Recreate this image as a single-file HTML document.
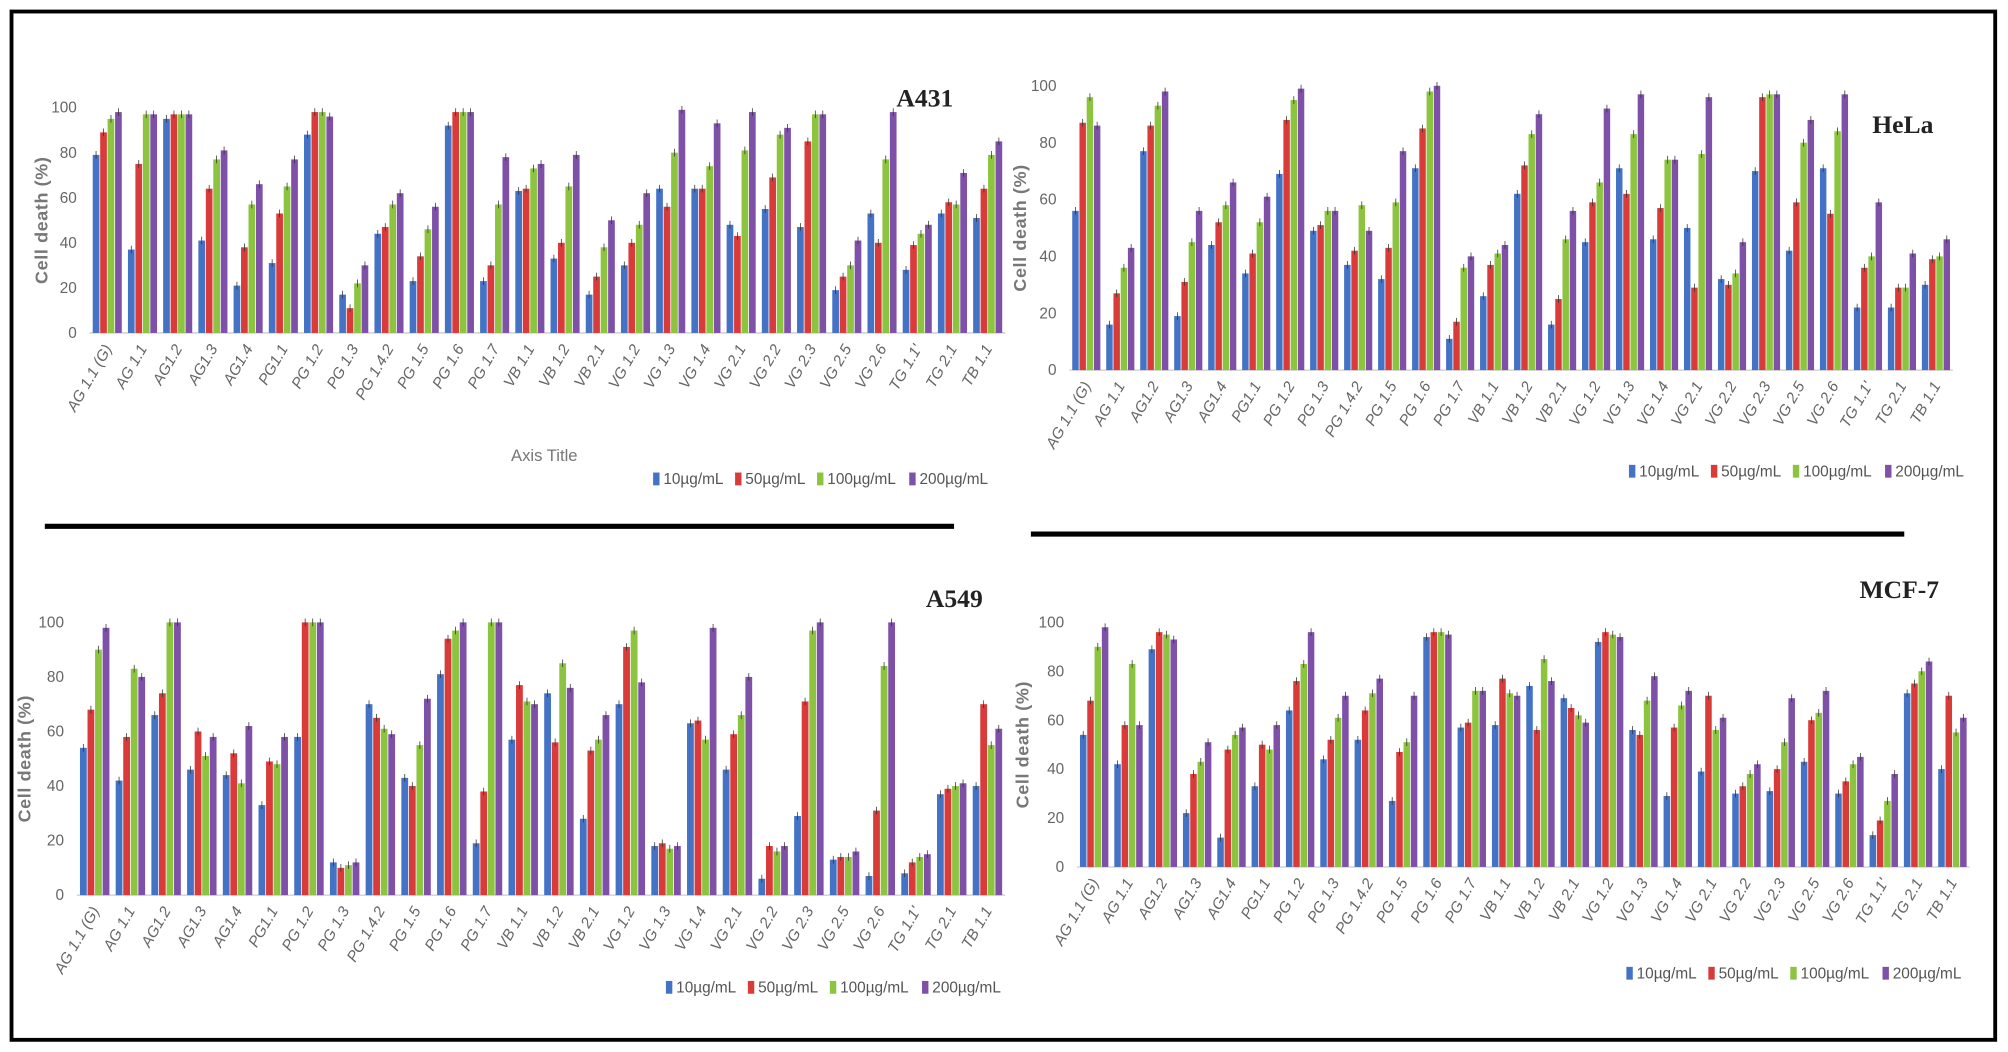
<!DOCTYPE html>
<html><head><meta charset="utf-8"><style>
html,body{margin:0;padding:0;background:#fff;}
svg{display:block;}
text{font-family:"Liberation Sans",sans-serif;}
</style></head><body>
<svg id="chart" width="2008" height="1052" viewBox="0 0 1568 821.5" preserveAspectRatio="none" xmlns="http://www.w3.org/2000/svg">
<rect x="0" y="0" width="1568" height="821.5" fill="#fff"/>
<rect x="9" y="9" width="1549" height="803" fill="none" stroke="#000" stroke-width="3"/>
<line x1="35" y1="411" x2="745" y2="411" stroke="#000" stroke-width="4"/>
<line x1="805" y1="417" x2="1487" y2="417" stroke="#000" stroke-width="4"/>
<text x="425" y="360" font-size="13" fill="#777" text-anchor="middle">Axis Title</text>
</svg>
<script>
const categories = ["AG 1.1 (G)","AG 1.1","AG1.2","AG1.3","AG1.4","PG1.1","PG 1.2","PG 1.3","PG 1.4.2","PG 1.5","PG 1.6","PG 1.7","VB 1.1","VB 1.2","VB 2.1","VG 1.2","VG 1.3","VG 1.4","VG 2.1","VG 2.2","VG 2.3","VG 2.5","VG 2.6","TG 1.1'","TG 2.1","TB 1.1"];
const seriesNames = ["10µg/mL","50µg/mL","100µg/mL","200µg/mL"];
const yTicks = [0,20,40,60,80,100];
const a431_10 = [79,37,95,41,21,31,88,17,44,23,92,23,63,33,17,30,64,64,48,55,47,19,53,28,53,51];
const a431_50 = [89,75,97,64,38,53,98,11,47,34,98,30,64,40,25,40,56,64,43,69,85,25,40,39,58,64];
const a431_100 = [95,97,97,77,57,65,98,22,57,46,98,57,73,65,38,48,80,74,81,88,97,30,77,44,57,79];
const a431_200 = [98,97,97,81,66,77,96,30,62,56,98,78,75,79,50,62,99,93,98,91,97,41,98,48,71,85];
const hela_10 = [56,16,77,19,44,34,69,49,37,32,71,11,26,62,16,45,71,46,50,32,70,42,71,22,22,30];
const hela_50 = [87,27,86,31,52,41,88,51,42,43,85,17,37,72,25,59,62,57,29,30,96,59,55,36,29,39];
const hela_100 = [96,36,93,45,58,52,95,56,58,59,98,36,41,83,46,66,83,74,76,34,97,80,84,40,29,40];
const hela_200 = [86,43,98,56,66,61,99,56,49,77,100,40,44,90,56,92,97,74,96,45,97,88,97,59,41,46];
const a549_10 = [54,42,66,46,44,33,58,12,70,43,81,19,57,74,28,70,18,63,46,6,29,13,7,8,37,40];
const a549_50 = [68,58,74,60,52,49,100,10,65,40,94,38,77,56,53,91,19,64,59,18,71,14,31,12,39,70];
const a549_100 = [90,83,100,51,41,48,100,11,61,55,97,100,71,85,57,97,17,57,66,16,97,14,84,14,40,55];
const a549_200 = [98,80,100,58,62,58,100,12,59,72,100,100,70,76,66,78,18,98,80,18,100,16,100,15,41,61];
const mcf_10 = [54,42,89,22,12,33,64,44,52,27,94,57,58,74,69,92,56,29,39,30,31,43,30,13,71,40];
const mcf_50 = [68,58,96,38,48,50,76,52,64,47,96,59,77,56,65,96,54,57,70,33,40,60,35,19,75,70];
const mcf_100 = [90,83,95,43,54,48,83,61,71,51,96,72,71,85,62,95,68,66,56,38,51,63,42,27,80,55];
const mcf_200 = [98,58,93,51,57,58,96,70,77,70,95,72,70,76,59,94,78,72,61,42,69,72,45,38,84,61];

const colors = ["#4472C4","#D93B3B","#8CC43F","#7E50A8"];
const NS = "http://www.w3.org/2000/svg";
const svg = document.getElementById("chart");
function mk(tag, attrs, parent){
  const e = document.createElementNS(NS, tag);
  for (const k in attrs) e.setAttribute(k, attrs[k]);
  (parent||svg).appendChild(e);
  return e;
}
function panel(p){
  const g = mk("g", {});
  
  
  const n = categories.length;
  const gw = (p.x1 - p.x0) / n;
  const bw = gw * 0.19;
  const xScale = i => p.x0 + gw * i + gw / 2;
  const yScale = v => p.y0 - (p.y0 - p.y100) * v / 100;
  yTicks.forEach(t => {
    const tx = mk("text", {x: p.x0 - 10, y: yScale(t) + 4, "font-size": 12, fill: "#666", "text-anchor": "end"}, g);
    tx.textContent = t;
    
    
  });
  const base = mk("line", {x1: p.x0, y1: p.y0, x2: p.x1, y2: p.y0, stroke: "#ccc", "stroke-width": 1}, g);
  
  
  const yt = mk("text", {x: p.ytx, y: (p.y0 + p.y100) / 2, "font-size": 14, fill: "#777", "text-anchor": "middle", "font-weight": "bold", "letter-spacing": "0.5", transform: "rotate(-90 " + p.ytx + " " + ((p.y0 + p.y100) / 2) + ")"}, g);
  yt.textContent = "Cell death (%)";
  
  
  p.series.forEach((arr, s) => {
    arr.forEach((v, i) => {
      const cx = xScale(i) + (s - 1.5) * (bw + 0.6);
      const r = mk("rect", {x: cx - bw / 2, y: yScale(v), width: bw, height: p.y0 - yScale(v), fill: colors[s]}, g);
      
      
      const eb = mk("line", {x1: cx, y1: yScale(v) - 3, x2: cx, y2: yScale(v) + 3, stroke: "#333", "stroke-width": 0.6}, g);
      
      
    });
  });
  categories.forEach((c, i) => {
    const lx = xScale(i) + 4, ly = p.y0 + 12;
    const t = mk("text", {x: lx, y: ly, "font-size": 12, fill: "#666", "font-style": "italic", "text-anchor": "end", transform: "rotate(-60 " + lx + " " + ly + ")"}, g);
    t.textContent = c;
    
    
  });
  const tt = mk("text", {x: p.tx, y: p.ty, "font-size": 20, "font-weight": "bold", fill: "#222", style: "font-family:'Liberation Serif',serif"}, g);
  tt.textContent = p.title;
  
  
  let lx = p.lx;
  seriesNames.forEach((s, k) => {
    const sw = mk("rect", {x: lx, y: p.ly - 9, width: 5, height: 10, fill: colors[k]}, g);
    
    
    const lt = mk("text", {x: lx + 8, y: p.ly, "font-size": 12, fill: "#555", style: "font-family:'Liberation Sans Narrow','Liberation Sans',sans-serif"}, g);
    lt.textContent = s;
    
    
    lx += (k < 2 ? 64 : 72);
  });
}
panel({id: "a431", title: "A431", x0: 70, x1: 785, y0: 260, y100: 84, ytx: 37, tx: 700, ty: 83, lx: 510, ly: 378, series: [a431_10, a431_50, a431_100, a431_200]});
panel({id: "hela", title: "HeLa", x0: 835, x1: 1525, y0: 289, y100: 67, ytx: 801, tx: 1462, ty: 104, lx: 1272, ly: 372, series: [hela_10, hela_50, hela_100, hela_200]});
panel({id: "a549", title: "A549", x0: 60, x1: 785, y0: 699, y100: 486, ytx: 24, tx: 723, ty: 474, lx: 520, ly: 775, series: [a549_10, a549_50, a549_100, a549_200]});
panel({id: "mcf7", title: "MCF-7", x0: 841, x1: 1538, y0: 677, y100: 486, ytx: 803, tx: 1452, ty: 467, lx: 1270, ly: 764, series: [mcf_10, mcf_50, mcf_100, mcf_200]});
</script>
</body></html>
